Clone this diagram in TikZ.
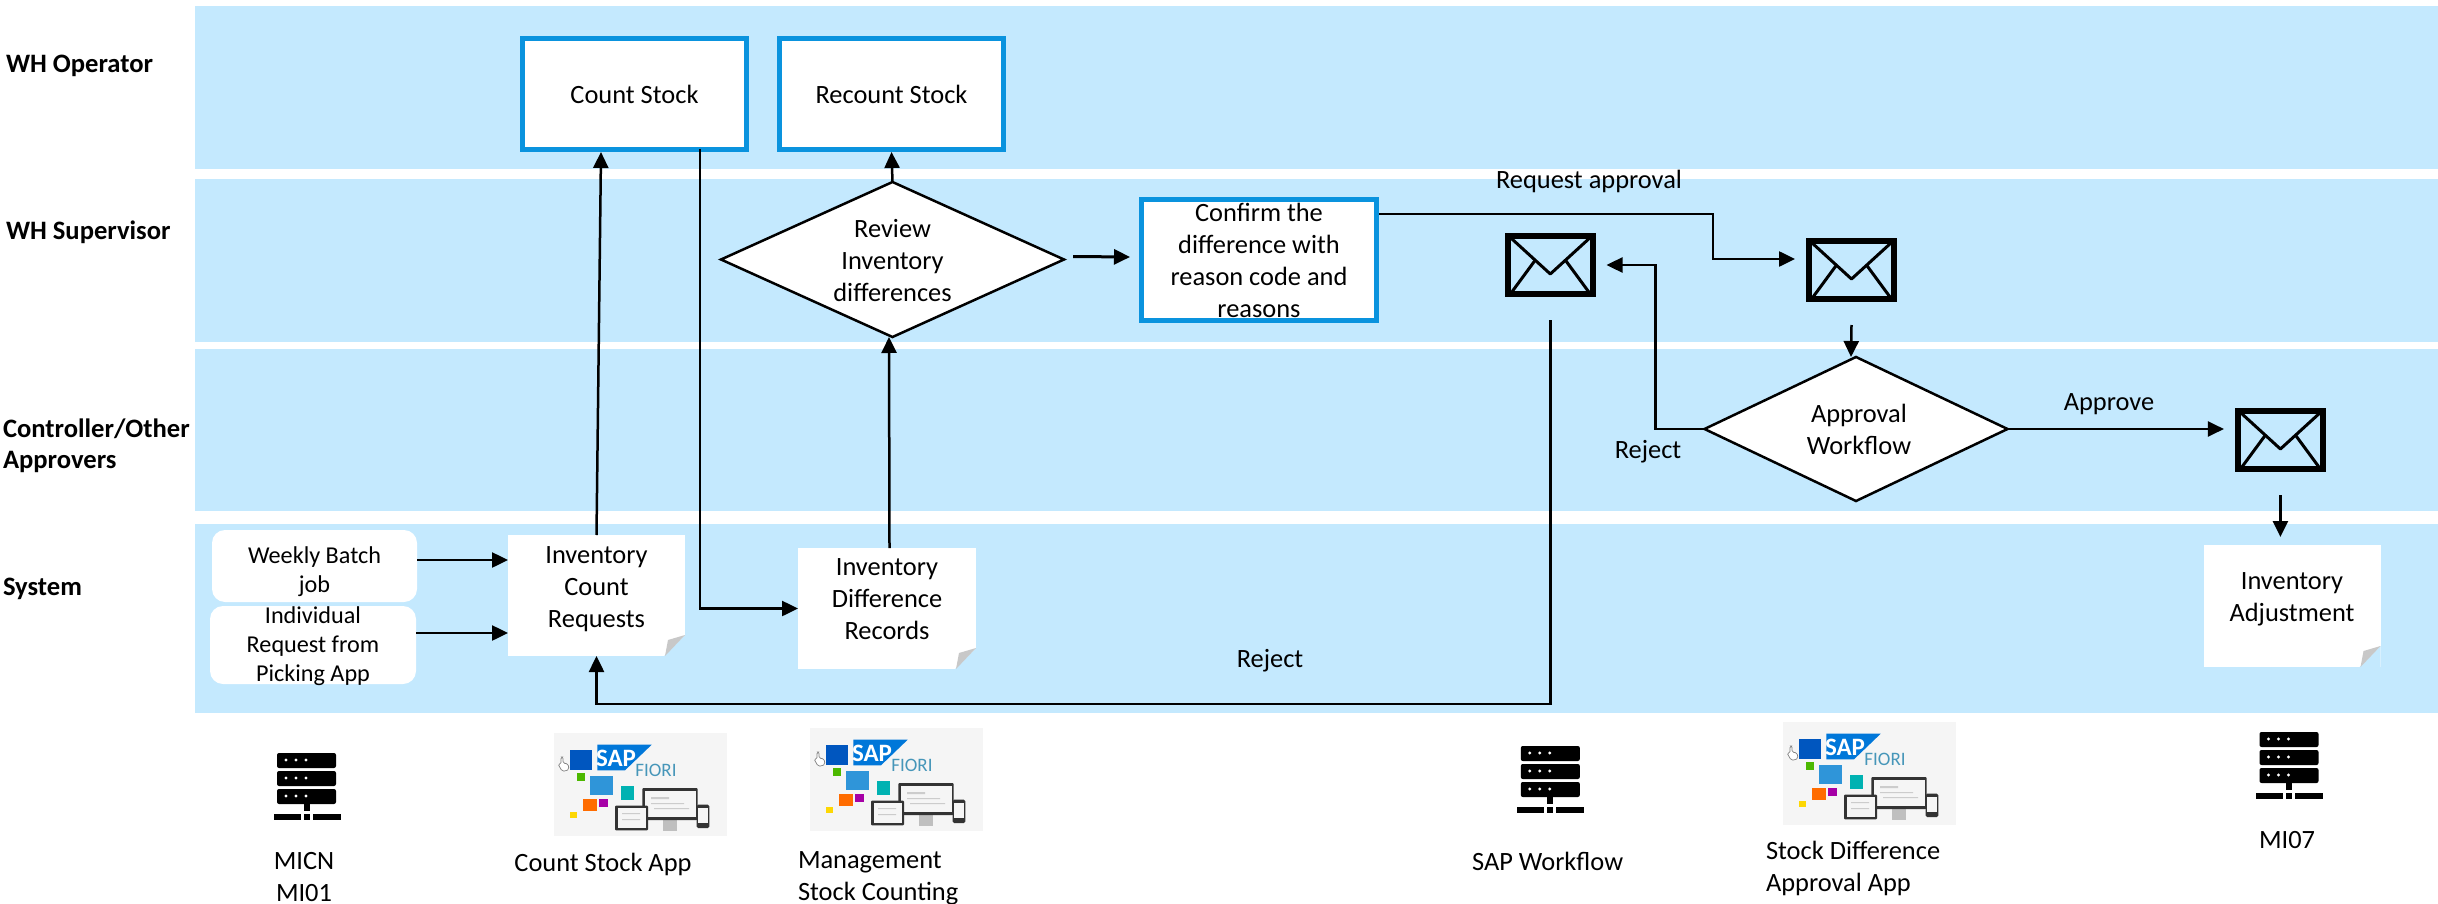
\documentclass[tikz,border=0pt]{standalone}
\usepackage{fontspec}
\setmainfont{Carlito}
\usetikzlibrary{shapes.geometric,arrows.meta}
\definecolor{band}{HTML}{C4E9FE}
\definecolor{boxblue}{HTML}{0A93DE}
\definecolor{foldgray}{HTML}{C8C8C8}
\newcommand{\Lift}[2]{\raisebox{#1}[0pt][0pt]{\begin{tabular}[c]{@{}c@{}}#2\end{tabular}}}
\tikzset{
  x=1pt,y=-1pt,
  txt/.style={font=\fontsize{26.4}{32}\selectfont,inner sep=0pt,outer sep=0pt,align=center,text=black},
  smalltxt/.style={txt,font=\fontsize{24.2}{29}\selectfont},
  lefttxt/.style={txt,align=left,anchor=west},
  role/.style={lefttxt,font=\fontsize{26.6}{32}\selectfont\bfseries},
  laneband/.style={fill=band,draw=none},
  taskbox/.style={txt,draw=boxblue,fill=white,line width=5pt,rectangle,outer sep=2.5pt},
  decision/.style={txt,draw=black,fill=white,line width=2.5pt,shape=diamond,outer sep=0pt},
  trigger/.style={smalltxt,fill=white,rectangle,rounded corners=13pt},
  note/.style={txt,rectangle,fill=white,path picture={
      \fill[band] ([shift={(0,-21)}]path picture bounding box.south east)
         -- (path picture bounding box.south east)
         -- ([shift={(-21,0)}]path picture bounding box.south east) -- cycle;
      \fill[foldgray] ([shift={(0,-21)}]path picture bounding box.south east)
         -- ([shift={(-20,0)}]path picture bounding box.south east)
         -- ([shift={(-17,-16)}]path picture bounding box.south east) -- cycle;
  }},
  envelope/.style={rectangle,draw=black,line width=6pt,minimum width=85.4pt,minimum height=58pt,inner sep=0pt,outer sep=3pt,path picture={
      \draw[black,line width=3pt,line join=round]
         ([shift={(0,-1)}]path picture bounding box.north west)
         -- ([shift={(42.7,38)}]path picture bounding box.north west)
         -- ([shift={(85.4,-1)}]path picture bounding box.north west);
      \draw[black,line width=3pt] ([shift={(2,1)}]path picture bounding box.south west)
         -- ([shift={(27,25)}]path picture bounding box.north west);
      \draw[black,line width=3pt] ([shift={(-2,1)}]path picture bounding box.south east)
         -- ([shift={(58.4,25)}]path picture bounding box.north west);
  }},
  conn/.style={draw=black,line width=2.5pt,-{Triangle[length=16pt,width=15pt]}},
  server/.pic={
    \foreach \yy in {0,18,36}{
      \fill[black,rounded corners=2pt] (-29.5,\yy) rectangle (29.5,\yy+15);
      \foreach \xx in {-20.5,-10.5,-0.5}{\fill[white] (\xx,\yy+7) circle (1.6pt);}
    }
    \fill[black] (-3,50) rectangle (3,58);
    \fill[black] (-33,61) rectangle (-6,67);
    \fill[black] (-3,61) rectangle (3,67);
    \fill[black] (6,61) rectangle (34,67);
  },
  fiori/.pic={
    \fill[black!4] (0,0) rectangle (173,103);
    \fill[white,draw=gray,line width=0.7pt,rounded corners=1.5pt] (7,24) -- (9,24) -- (9,30) -- (14,31) -- (15,36) -- (12,38) -- (8,38) -- (4,31) -- (7,31) -- cycle;
    \fill[blue!55!cyan!75!black] (16,17) rectangle (38.3,37.3);
    \fill[blue!45!cyan!85!black] (43.3,11.7) -- (97.7,11.7) -- (71,37.3) -- (43.3,37.3) -- cycle;
    \node[inner sep=0pt,text=white,font=\fontsize{25}{25}\selectfont\bfseries] (-sap) at (62,25.5) {SAP};
    \node[inner sep=0pt,text=blue!30!cyan!45!gray,font=\fontsize{19}{19}\selectfont] (-fiori) at (102,37) {FIORI};
    \fill[green!60!black!70!yellow] (22.7,40.3) rectangle (31,48);
    \fill[cyan!70!blue!85] (36,43.3) rectangle (59.3,62.3);
    \fill[teal!60!cyan] (67,53) rectangle (79.7,67);
    \fill[orange!85!red] (28.7,66.3) rectangle (42.7,78);
    \fill[violet!70!magenta] (45.3,66.3) rectangle (53.7,73.7);
    \fill[yellow!75!orange] (16.3,79) rectangle (22.7,85.3);
    \fill[black!25] (109,86) rectangle (123,98);
    \fill[black!80,rounded corners=1pt] (88.3,55) rectangle (143.7,87);
    \fill[black!4] (90.5,58) rectangle (141.5,84);
    \fill[black!20] (97,64) rectangle (115,66) (97,70) rectangle (130,71) (100,75) rectangle (135,76);
    \fill[black!80,rounded corners=1pt] (61,72.7) rectangle (94,97.3);
    \fill[black!4] (63.5,75) rectangle (91.5,94.5);
    \fill[black!20] (68,80) rectangle (86,81) (68,86) rectangle (86,87);
    \fill[black!80,rounded corners=1.5pt] (142.7,71.7) rectangle (155.3,95);
    \fill[black!4] (144.2,75) rectangle (153.8,90);
  }
}
\begin{document}
\begin{tikzpicture}
\useasboundingbox (0,0) rectangle (2438,904);
% lanes
\fill[laneband] (195,6) rectangle (2438,169);
\fill[laneband] (195,179) rectangle (2438,342);
\fill[laneband] (195,349) rectangle (2438,511);
\fill[laneband] (195,524) rectangle (2438,713);
% role labels
\node[role] (r1) at (6,66) {WH Operator};
\node[role] (r2) at (6,232) {WH Supervisor};
\node[role] (r3) at (3,429) {Controller/Other};
\node[role] (r3b) at (3,462) {Approvers};
\node[role] (r4) at (3,589) {System};
% shapes
\node[taskbox,minimum width=224pt,minimum height=111pt] (cs) at (634.5,94) {Count Stock};
\node[taskbox,minimum width=224pt,minimum height=111pt] (rs) at (891.5,94) {Recount Stock};
\node[taskbox,minimum width=235pt,minimum height=121pt] (cf) at (1259,260) {Confirm the\\difference with\\reason code and\\reasons};
\node[decision,aspect=2.21,minimum width=343pt,minimum height=155pt] (rv) at (892.5,259.5) {\Lift{-10pt}{Review\\Inventory\\differences}};
\node[decision,aspect=2.1,minimum width=303pt,minimum height=144pt] (ap) at (1856,429) {\hspace{6pt}Approval\\\hspace{6pt}Workflow};
\node[trigger,minimum width=205pt,minimum height=72pt] (wb) at (314.5,566) {\Lift{-12pt}{Weekly Batch\\job}};
\node[trigger,minimum width=206pt,minimum height=78pt] (ir) at (313,645) {\Lift{-8pt}{Individual\\Request from\\Picking App}};
\node[note,minimum width=177pt,minimum height=121pt] (icr) at (596.5,595.5) {\Lift{0.5pt}{Inventory\\Count\\Requests}};
\node[note,minimum width=178pt,minimum height=121pt] (idr) at (887,608.5) {\Lift{1.5pt}{Inventory\\Difference\\Records}};
\node[note,minimum width=177pt,minimum height=122pt] (ia) at (2292,606) {\Lift{1pt}{Inventory\\Adjustment}};
\node[envelope] (e1) at (1550.3,265) {};
\node[envelope] (e2) at (1851.5,270) {};
\node[envelope] (e3) at (2280.4,440) {};
% turning points
\coordinate (t1) at (1713,214);
\coordinate (t2) at (1655.5,429);
\coordinate (t3) at (1550.3,704);
\coordinate (t4) at (596.5,704);
% connectors
\draw[conn] (icr.north) -- ([shift={(-33.5,0)}]cs.south);
\draw[conn] ([shift={(65.5,-3)}]cs.south) |- (idr.west);
\draw[conn] (rv.north) -- (rs.south);
\draw[conn] ([shift={(2.5,0)}]idr.north) -- ([shift={(-3.5,0)}]rv.south);
\draw[conn,line width=3pt] ([shift={(9,-3)}]rv.east) -- ([shift={(-9,-3)}]cf.west);
\draw[conn] (wb.east |- 0,560) -- (icr.west |- 0,560);
\draw[conn] (ir.east |- 0,633) -- (icr.west |- 0,633);
\draw[conn] ([shift={(0,-46)}]cf.east) -- (t1) |- ([shift={(-10.8,-11)}]e2.west);
\draw[conn] ([shift={(0,23)}]e2.south) -- ([shift={(-5,0)}]ap.north);
\draw[conn] (ap.west) -- (t2) |- ([shift={(10.5,0)}]e1.east);
\draw[conn] (ap.east) -- ([shift={(-10.8,-11)}]e3.west);
\draw[conn] ([shift={(0,23)}]e3.south) -- ([shift={(-11.6,-8)}]ia.north);
\draw[conn] ([shift={(0,23)}]e1.south) -- (t3) -- (t4) -- (icr.south);
% labels
\node[txt] (l1) at (1589,181) {Request approval};
\node[txt] (l2) at (2109,404) {Approve};
\node[txt] (l3) at (1648,452) {Reject};
\node[txt] (l4) at (1270,661) {Reject};
% system icons
\pic (s1) at (306.5,753) {server};
\pic (s2) at (1550.3,746) {server};
\pic (s3) at (2289,732) {server};
\pic (f1) at (554,733) {fiori};
\pic (f2) at (810,728) {fiori};
\pic (f3) at (1783,722) {fiori};
% system captions
\node[txt] (c1) at (304,877) {MICN\\MI01};
\node[txt] (c2) at (603,864) {Count Stock App};
\node[lefttxt] (c3) at (798,878) {Management\\Stock Counting};
\node[txt] (c4) at (1547.6,861.5) {SAP Workflow};
\node[lefttxt] (c5) at (1766,868.5) {Stock Difference\\Approval App};
\node[txt] (c6) at (2287,840) {MI07};
\end{tikzpicture}
\end{document}
